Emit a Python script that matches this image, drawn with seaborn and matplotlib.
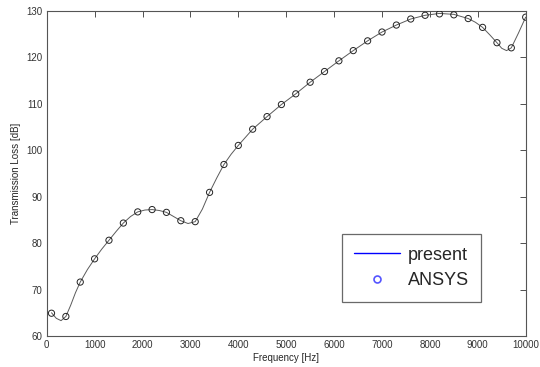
import pandas as pd
import matplotlib.pyplot as plt
from matplotlib.lines import Line2D
import seaborn as sns

# ---------------------------------------------------------
# DATA
# ---------------------------------------------------------

# smooth "present" curve
curve_freq = [100, 200, 300, 400, 500, 600, 700, 850, 1000, 1150, 1300,
              1450, 1600, 1750, 1900, 2050, 2200, 2350, 2500, 2650, 2800,
              2950, 3100, 3250, 3400, 3550, 3700, 3850, 4000, 4300, 4600,
              4900, 5200, 5500, 5800, 6100, 6400, 6700, 7000, 7300, 7600,
              7900, 8200, 8500, 8800, 8950, 9100, 9250, 9400, 9500, 9600,
              9700, 9850, 10000]
curve_tl = [65.0, 63.8, 63.3, 64.2, 66.6, 69.3, 71.6, 74.3, 76.6, 78.7, 80.6,
            82.5, 84.3, 85.7, 86.7, 87.1, 87.2, 87.0, 86.6, 85.7, 84.8,
            84.2, 84.6, 87.3, 90.9, 94.0, 96.9, 99.1, 101.0, 104.5, 107.2,
            109.8, 112.1, 114.6, 116.9, 119.2, 121.4, 123.5, 125.4, 126.9, 128.2,
            129.0, 129.4, 129.2, 128.3, 127.5, 126.4, 124.8, 123.1, 121.9, 121.4,
            122.0, 125.2, 128.6]

# ANSYS points
ansys_freq = [100, 400, 700, 1000, 1300, 1600, 1900, 2200, 2500, 2800,
              3100, 3400, 3700, 4000, 4300, 4600, 4900, 5200, 5500, 5800,
              6100, 6400, 6700, 7000, 7300, 7600, 7900, 8200, 8500, 8800,
              9100, 9400, 9700, 10000]
ansys_tl = [64.9, 64.2, 71.6, 76.6, 80.6, 84.3, 86.7, 87.2, 86.6, 84.8,
            84.6, 90.9, 96.9, 101.0, 104.5, 107.2, 109.8, 112.1, 114.6, 116.9,
            119.2, 121.4, 123.5, 125.4, 126.9, 128.2, 129.0, 129.3, 129.1, 128.3,
            126.4, 123.1, 122.0, 128.6]

x_ticks = [0, 1000, 2000, 3000, 4000, 5000, 6000, 7000, 8000, 9000, 10000]
y_ticks = [60, 70, 80, 90, 100, 110, 120, 130]

curve = pd.DataFrame({"freq": curve_freq, "tl": curve_tl})
ansys = pd.DataFrame({"freq": ansys_freq, "tl": ansys_tl})

# ---------------------------------------------------------
# STYLE
# ---------------------------------------------------------

sns.set_style("white")
plt.rcParams["font.family"] = ["Liberation Sans", "DejaVu Sans"]

fig = plt.figure(figsize=(5.4, 3.67), dpi=100)
ax = fig.add_axes([0.0865, 0.0845, 0.887, 0.8865])

sns.lineplot(
    data=curve, x="freq", y="tl",
    color="#5a5a5a", linewidth=0.7, ax=ax, legend=False
)

sns.scatterplot(
    data=ansys, x="freq", y="tl",
    marker="o", s=20, facecolor="none", edgecolor="#222222",
    linewidth=0.7, ax=ax, legend=False, zorder=3
)

ax.set_xlim(0, 10000)
ax.set_ylim(60, 130)
ax.set_xticks(x_ticks)
ax.set_yticks(y_ticks)
ax.tick_params(direction="in", length=4, width=0.6, labelsize=7,
               top=True, right=True, colors="#333333", pad=3)
for sp in ax.spines.values():
    sp.set_color("#555555")
    sp.set_linewidth(0.8)

ax.set_xlabel("Frequency [Hz]", fontsize=7, labelpad=2)
ax.set_ylabel("Transmission Loss [dB]", fontsize=7, labelpad=4)

# ---------------------------------------------------------
# LEGEND
# ---------------------------------------------------------

handles = [
    Line2D([], [], color="blue", linewidth=1.0),
    Line2D([], [], color="none", marker="o", markersize=5,
           markerfacecolor="none", markeredgecolor="#5555ff",
           markeredgewidth=1.2),
]

leg = ax.legend(
    handles,
    ["present", "ANSYS"],
    loc="upper left",
    bbox_to_anchor=(0.616, 0.313),
    fontsize=13,
    frameon=True,
    fancybox=False,
    borderaxespad=0,
    handlelength=2.5,
    borderpad=0.7,
    labelspacing=0.45,
    handletextpad=0.45
)
leg.get_frame().set_edgecolor("#444444")
leg.get_frame().set_linewidth(0.9)

fig.savefig("out.png", dpi=100)
